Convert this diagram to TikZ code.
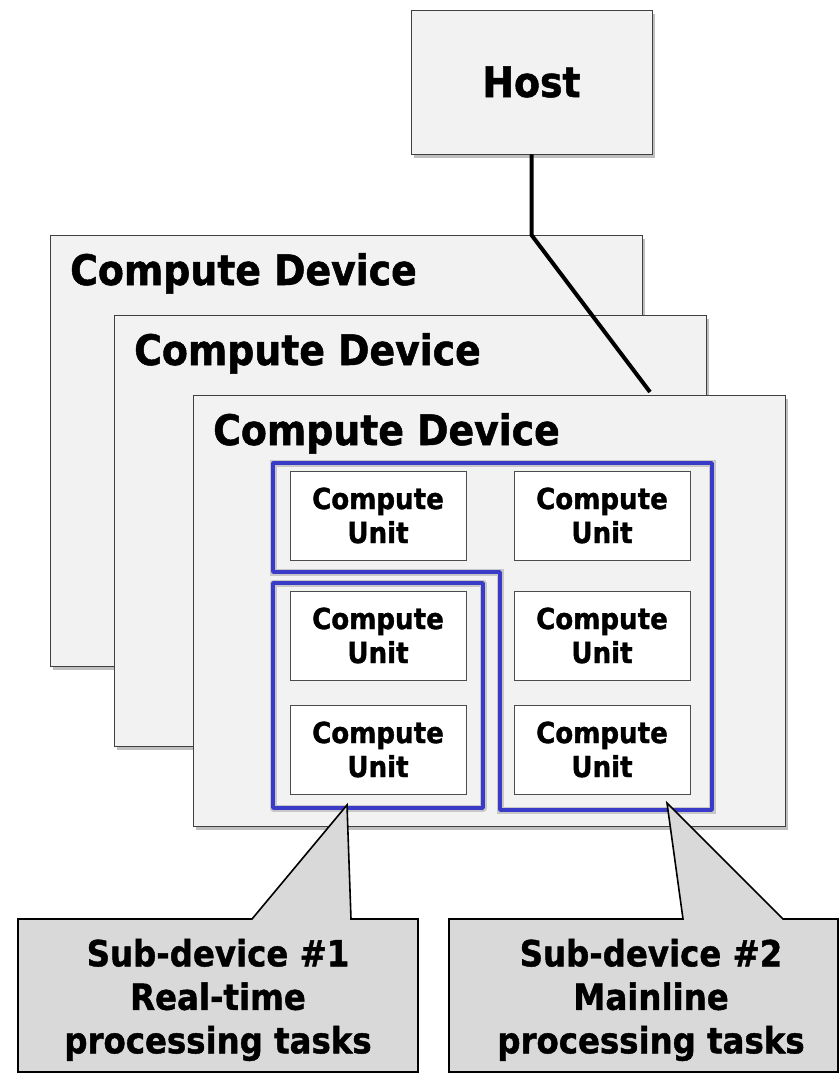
\documentclass[tikz,border=0pt]{standalone}
\usepackage{fontspec}
\setmainfont{DejaVu Sans}[FakeStretch=0.9, BoldFeatures={FakeBold=1.2}]
\usetikzlibrary{shadows}
\definecolor{boxgray}{RGB}{242,242,242}
\definecolor{callgray}{RGB}{217,217,217}
\definecolor{subblue}{RGB}{58,58,200}

\begin{document}
\begin{tikzpicture}[x=1pt, y=-1pt,
		devbox/.style={draw=black!75, fill=boxgray, line width=0.8pt, inner sep=0pt,
			drop shadow={opacity=0.5, shadow xshift=3pt, shadow yshift=-4pt}},
		devlabel/.style={font=\fontsize{42}{50}\selectfont\bfseries, inner sep=0pt},
		unitbox/.style={draw=black!70, fill=white, line width=0.8pt, inner sep=0pt,
			minimum width=176pt, minimum height=89pt, align=center,
			font=\fontsize{29}{34}\selectfont\bfseries},
		subline/.style={draw=subblue, line width=3.5pt, line join=round,
			preaction={draw=black!22, line width=7pt}},
		callout/.style={draw=black, fill=callgray, line width=1.6pt, line join=miter},
		calltext/.style={align=center, inner sep=0pt, font=\fontsize{36}{43.5}\selectfont\bfseries},
		hostlink/.style={line width=4pt}]
	\useasboundingbox (0,0) rectangle (840,1073);
	\node[devbox, minimum width=241pt, minimum height=144pt, font=\fontsize{42}{50}\selectfont\bfseries] (host) at (531.5,82) {Host};
	\foreach \i/\x/\y in {1/50/235, 2/114/315, 3/193/395} {
		\node[devbox, minimum width=592pt, minimum height=431pt, anchor=north west] (dev\i) at (\x,\y) {};
		\node[devlabel, anchor=base west] (devlbl\i) at (\x+20,\y+50) {Compute Device};
	}
	\node[subline, minimum width=210pt, minimum height=225pt, inner sep=0pt] (sub1) at (378,695.5) {};
	\draw[subline] (273,463) -- (712,463) -- (712,810) -- (500,810) -- (500,572) -- (273,572) -- cycle;
	\foreach \r/\y in {1/515.5, 2/635.5, 3/749.5} {
		\foreach \c/\x in {1/378, 2/602} {
			\node[unitbox] (cu\r\c) at (\x,\y) {Compute\\Unit};
		}
	}
	\coordinate (bend) at (531.5,235);
	\coordinate (link) at (650,392);
	\draw[hostlink] (host.south) -- (bend) -- (link);
	\coordinate (tip1) at (347,805);
	\coordinate (tip2) at (667,803);
	\draw[callout] (18,919) -- (252,919) -- (tip1) -- (351,919) -- (418,919) -- (418,1072) -- (18,1072) -- cycle;
	\draw[callout] (449,919) -- (683,919) -- (tip2) -- (783,919) -- (838,919) -- (838,1072) -- (449,1072) -- cycle;
	\node[calltext] (call1) at (218,1000) {Sub-device \#1\\Real-time\\processing tasks};
	\node[calltext] (call2) at (651,1000) {Sub-device \#2\\Mainline\\processing tasks};
\end{tikzpicture}
\end{document}
